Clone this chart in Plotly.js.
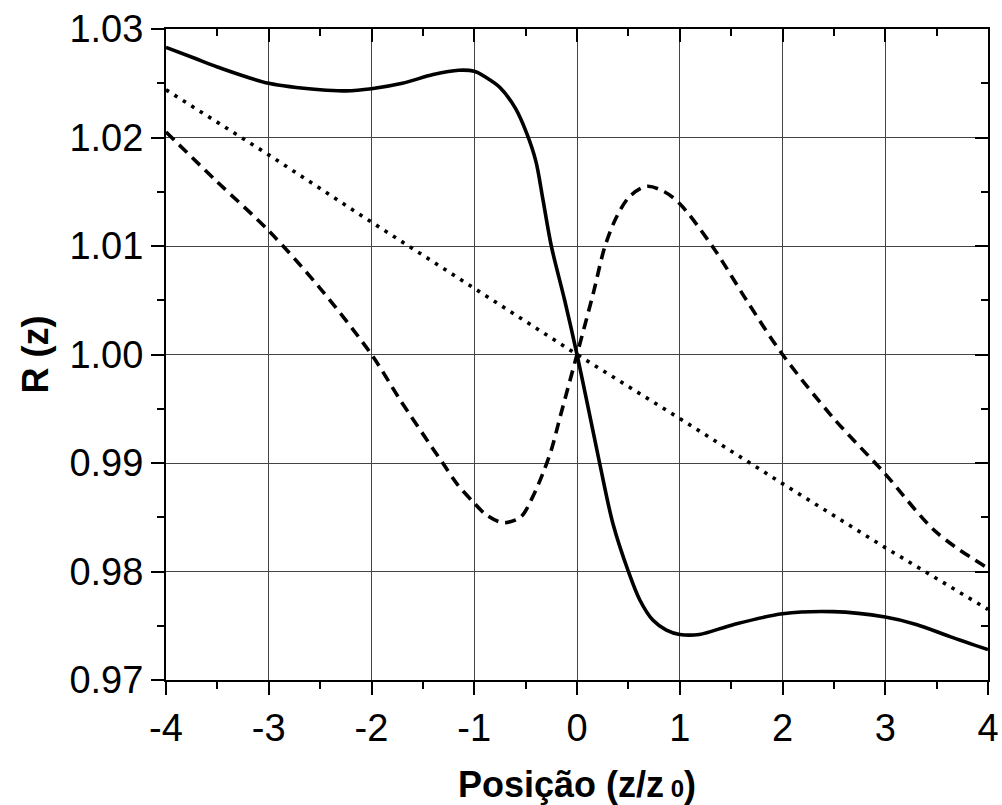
<!DOCTYPE html>
<html>
<head>
<meta charset="utf-8">
<script src="https://cdn.plot.ly/plotly-3.0.1.min.js"></script>
<style>html,body{margin:0;padding:0;background:#fff;}#chart{width:1002px;height:805px;}</style>
</head>
<body>
<div id="chart"></div>
<script>
// Solid curve
var xSolid = [-4, -3.72, -3.5, -3, -2.5, -2.25, -2, -1.7, -1.4, -1.15, -1, -0.88, -0.75, -0.6, -0.49, -0.4, -0.33, -0.25, -0.12, 0, 0.1, 0.22, 0.35, 0.5, 0.61, 0.74, 0.87, 1.0, 1.19, 1.52, 2.0, 2.49, 3.0, 3.31, 3.63, 4];
var rSolid = [1.0283, 1.0273, 1.0265, 1.0250, 1.0244, 1.0243, 1.0245, 1.0250, 1.0258, 1.0262, 1.0261, 1.0255, 1.0246, 1.0227, 1.0204, 1.0178, 1.0142, 1.0100, 1.0050, 1.0000, 0.9955, 0.9900, 0.9844, 0.9800, 0.9774, 0.9755, 0.9746, 0.9742, 0.9742, 0.9751, 0.9761, 0.9763, 0.9758, 0.9751, 0.9740, 0.9728];
// Dashed curve
var xDashed = [-4, -3.5, -3, -2.5, -2, -1.72, -1.43, -1.3, -1.17, -1.01, -0.88, -0.72, -0.55, -0.43, -0.33, -0.25, -0.16, 0, 0.16, 0.27, 0.386, 0.516, 0.68, 0.85, 1.0, 1.33, 1.65, 2.0, 2.49, 2.98, 3.5, 4];
var rDashed = [1.0205, 1.0159, 1.0114, 1.0061, 1.0000, 0.9958, 0.9917, 0.9899, 0.9881, 0.9864, 0.9852, 0.9845, 0.9850, 0.9869, 0.9891, 0.9912, 0.9944, 1.0000, 1.0057, 1.0099, 1.0127, 1.0146, 1.0155, 1.0150, 1.0139, 1.0098, 1.0050, 1.0000, 0.9942, 0.9892, 0.9836, 0.9803];
// Dotted line
var xDotted = [-4, -3, -2, -1, 0, 1, 2, 3, 4];
var rDotted = [1.0244, 1.0184, 1.0122, 1.0061, 1.0000, 0.9941, 0.9881, 0.9822, 0.9765];

var xTickVals = [-4, -3, -2, -1, 0, 1, 2, 3, 4];
var xTickText = ['-4', '-3', '-2', '-1', '0', '1', '2', '3', '4'];
var yTickVals = [0.97, 0.98, 0.99, 1.00, 1.01, 1.02, 1.03];
var yTickText = ['0.97', '0.98', '0.99', '1.00', '1.01', '1.02', '1.03'];

var FONT = 'Liberation Sans, Arial, sans-serif';

var traces = [
  {x: xSolid, y: rSolid, mode: 'lines', line: {color: '#000', width: 3.6, shape: 'spline', smoothing: 0.9}, hoverinfo: 'skip', showlegend: false},
  {x: xDashed, y: rDashed, mode: 'lines', line: {color: '#000', width: 3.6, dash: '11px,7px', shape: 'spline', smoothing: 0.9}, hoverinfo: 'skip', showlegend: false},
  {x: xDotted, y: rDotted, mode: 'lines', line: {color: '#000', width: 3.6, dash: '3.5px,6.5px'}, hoverinfo: 'skip', showlegend: false},
  {x: [null], y: [null], xaxis: 'x2', yaxis: 'y2', mode: 'lines', hoverinfo: 'skip', showlegend: false}
];

var layout = {
  width: 1002, height: 805,
  margin: {l: 166, r: 14, t: 29, b: 125},
  paper_bgcolor: '#fff', plot_bgcolor: '#fff',
  font: {family: FONT, color: '#000'},
  xaxis: {
    range: [-4, 4], tickvals: xTickVals, ticktext: xTickText,
    ticks: 'outside', ticklen: 13, tickwidth: 2, tickcolor: '#000',
    showline: true, linewidth: 2, linecolor: '#000',
    showgrid: true, gridcolor: '#444', gridwidth: 1, zeroline: false,
    tickfont: {family: FONT, size: 38, color: '#000'},
    minor: {dtick: 0.5, ticks: 'outside', ticklen: 7, tickwidth: 2, tickcolor: '#000', showgrid: false},
    title: {text: '<b>Posição (z/z<span style="font-size:24px">&nbsp;0</span>)</b>', font: {family: FONT, size: 36, color: '#000'}, standoff: 30},
    fixedrange: true
  },
  yaxis: {
    range: [0.97, 1.03], tickvals: yTickVals, ticktext: yTickText,
    ticks: 'outside', ticklen: 13, tickwidth: 2, tickcolor: '#000',
    showline: true, linewidth: 2, linecolor: '#000',
    showgrid: true, gridcolor: '#444', gridwidth: 1, zeroline: false,
    tickfont: {family: FONT, size: 38, color: '#000'},
    minor: {dtick: 0.005, ticks: 'outside', ticklen: 7, tickwidth: 2, tickcolor: '#000', showgrid: false},
    title: {text: '<b>R (z)</b>', font: {family: FONT, size: 36, color: '#000'}, standoff: 10},
    fixedrange: true
  },
  xaxis2: {
    overlaying: 'x', side: 'top', range: [-4, 4], tickvals: xTickVals,
    showticklabels: false, ticks: 'inside', ticklen: 13, tickwidth: 2, tickcolor: '#000',
    showline: true, linewidth: 2, linecolor: '#000', showgrid: false, zeroline: false,
    minor: {dtick: 0.5, ticks: 'inside', ticklen: 7, tickwidth: 2, tickcolor: '#000', showgrid: false},
    fixedrange: true
  },
  yaxis2: {
    overlaying: 'y', side: 'right', range: [0.97, 1.03], tickvals: yTickVals,
    showticklabels: false, ticks: 'inside', ticklen: 13, tickwidth: 2, tickcolor: '#000',
    showline: true, linewidth: 2, linecolor: '#000', showgrid: false, zeroline: false,
    minor: {dtick: 0.005, ticks: 'inside', ticklen: 7, tickwidth: 2, tickcolor: '#000', showgrid: false},
    fixedrange: true
  }
};

Plotly.newPlot('chart', traces, layout, {displayModeBar: false, staticPlot: true});
</script>
</body>
</html>
